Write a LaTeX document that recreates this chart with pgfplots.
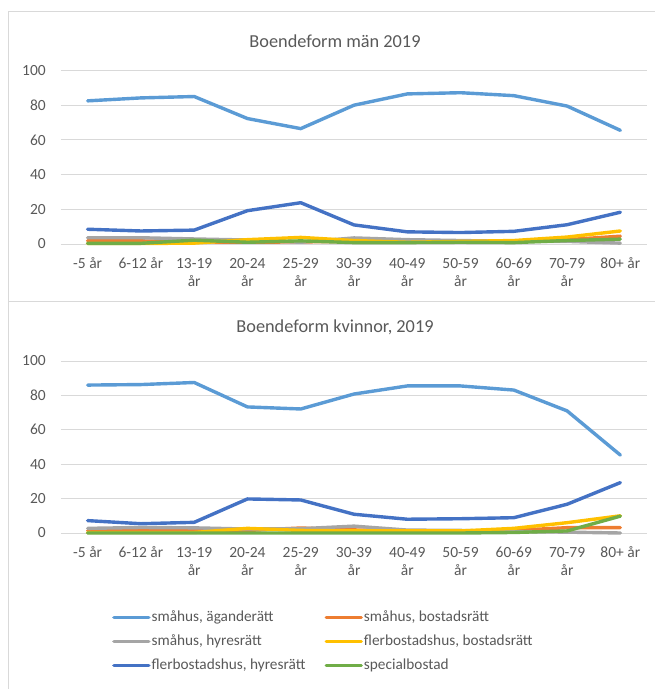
\documentclass[border=0pt]{standalone}
\usepackage{fontspec}
\setmainfont{Carlito}
\usepackage{pgfplots}
\pgfplotsset{compat=1.18}
\definecolor{cA}{HTML}{5B9BD5}
\definecolor{cB}{HTML}{ED7D31}
\definecolor{cC}{HTML}{A5A5A5}
\definecolor{cD}{HTML}{FFC000}
\definecolor{cE}{HTML}{4472C4}
\definecolor{cF}{HTML}{70AD47}
\definecolor{txt}{HTML}{595959}
\definecolor{gridc}{HTML}{D9D9D9}
\pgfplotsset{panel/.style={
  scale only axis, width=586pt,
  xmin=-0.5, xmax=10.5, ymin=0, ymax=100,
  axis line style={draw=none},
  ytick={0,20,...,100}, ymajorgrids, grid style={gridc, line width=0.9pt},
  major tick length=0pt,
  xtick={0,...,10},
  xticklabels={{\strut -5 år},{\strut 6-12 år},{\strut 13-19\\år},{\strut 20-24\\år},{\strut 25-29\\år},{\strut 30-39\\år},{\strut 40-49\\år},{\strut 50-59\\år},{\strut 60-69\\år},{\strut 70-79\\år},{\strut 80+ år}},
  tick label style={font=\fontsize{15.5}{18.4}\selectfont, text=txt},
  xticklabel style={align=center, anchor=north, inner sep=0pt, yshift=-11.5pt},
  yticklabel style={anchor=east, inner sep=0pt, xshift=-15pt},
  /pgf/number format/assume math mode=true,
  clip=false,
  every axis plot/.append style={line width=3.4pt, line join=round, line cap=round, mark=none},
}}
\begin{document}
\begin{tikzpicture}
\useasboundingbox (0pt,0pt) rectangle (655pt,689pt);
\draw[gridc, line width=1pt] (656pt,677pt) -- (8.5pt,677pt) -- (8.5pt,-1pt);
\draw[gridc, line width=1pt] (8.5pt,387pt) -- (656pt,387pt);
\node[font=\fontsize{18.3}{22}\selectfont, text=txt] at (335pt,648pt) {Boendeform män 2019};
\node[font=\fontsize{18.3}{22}\selectfont, text=txt] at (335pt,362pt) {Boendeform kvinnor, 2019};

\begin{axis}[panel, height=173.5pt, at={(61pt,445pt)}, anchor=south west]
\addplot[cA] coordinates {(0,82.5)(1,84.2)(2,85)(3,72.3)(4,66.5)(5,80)(6,86.5)(7,87.2)(8,85.5)(9,79.5)(10,65.5)};
\addplot[cB] coordinates {(0,1.9)(1,1.8)(2,1.2)(3,1.0)(4,1.2)(5,1.5)(6,1.5)(7,1.5)(8,1.5)(9,2.5)(10,4.5)};
\addplot[cC] coordinates {(0,3.6)(1,3.6)(2,2.9)(3,2.3)(4,1.0)(5,3.5)(6,2.5)(7,2.0)(8,1.5)(9,1.5)(10,0.5)};
\addplot[cD] coordinates {(0,0.3)(1,0.3)(2,0.5)(3,2.5)(4,3.8)(5,2.0)(6,1.0)(7,1.5)(8,2.0)(9,4.0)(10,7.5)};
\addplot[cE] coordinates {(0,8.5)(1,7.5)(2,8)(3,19.2)(4,23.8)(5,11)(6,7)(7,6.6)(8,7.3)(9,11.1)(10,18.3)};
\addplot[cF] coordinates {(0,0.4)(1,0.4)(2,2.2)(3,1.0)(4,1.8)(5,0.8)(6,0.8)(7,1.0)(8,0.8)(9,2.0)(10,2.8)};
\end{axis}

\begin{axis}[panel, height=172pt, at={(61pt,156pt)}, anchor=south west,
  legend columns=2,
  legend style={at={(0.087,-0.4477)}, anchor=north west, draw=none, fill=none,
    inner sep=0pt, row sep=9pt, font=\fontsize{15.3}{18}\selectfont, text=txt,
    nodes={inner xsep=1pt, inner ysep=0pt, text height=11pt, text depth=4pt}},
  legend cell align=left,
  legend image code/.code={\draw[#1, line width=3.4pt, line cap=round] (0pt,0pt) -- (35pt,0pt);},
]
\addplot[cA] coordinates {(0,86)(1,86.3)(2,87.5)(3,73.3)(4,72.1)(5,80.8)(6,85.5)(7,85.5)(8,83.1)(9,71)(10,45.3)};
\addlegendentry{\makebox[172pt][l]{småhus, äganderätt}}
\addplot[cB] coordinates {(0,1.4)(1,1.4)(2,1.4)(3,1.5)(4,2.9)(5,1.8)(6,1.2)(7,1.2)(8,1.5)(9,3.1)(10,3.1)};
\addlegendentry{småhus, bostadsrätt}
\addplot[cC] coordinates {(0,2.7)(1,3.2)(2,3.0)(3,2.3)(4,2.5)(5,4.0)(6,1.7)(7,1.5)(8,0.8)(9,0.5)(10,0.0)};
\addlegendentry{\makebox[172pt][l]{småhus, hyresrätt}}
\addplot[cD] coordinates {(0,0.3)(1,0.3)(2,0.3)(3,2.7)(4,1.5)(5,1.2)(6,1.2)(7,1.2)(8,2.7)(9,6.0)(10,10.0)};
\addlegendentry{flerbostadshus, bostadsrätt}
\addplot[cE] coordinates {(0,7.2)(1,5.4)(2,6.2)(3,19.8)(4,19.2)(5,10.9)(6,8.0)(7,8.3)(8,8.9)(9,16.7)(10,29.3)};
\addlegendentry{\makebox[172pt][l]{flerbostadshus, hyresrätt}}
\addplot[cF] coordinates {(0,0)(1,0)(2,0)(3,0)(4,0)(5,0)(6,0)(7,0)(8,0.3)(9,1.2)(10,9.8)};
\addlegendentry{specialbostad}
\end{axis}
\end{tikzpicture}
\end{document}
